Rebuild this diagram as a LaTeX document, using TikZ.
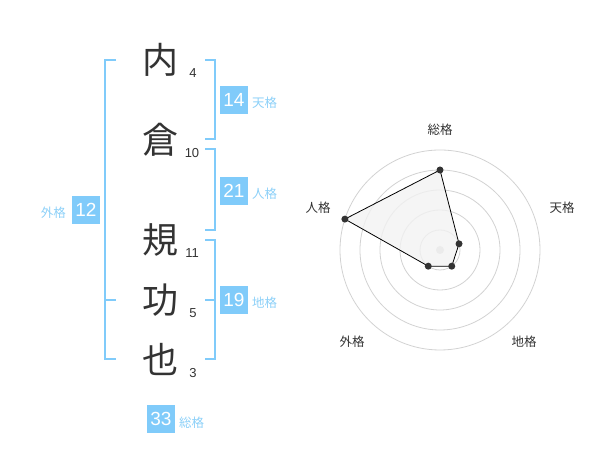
\documentclass[tikz,border=0pt]{standalone}
\usepackage{fontspec}
\setmainfont{Liberation Sans}
\newfontfamily\jpfont{Noto Sans CJK JP}
\definecolor{kakublue}{HTML}{80CBFA}
\definecolor{kakutext}{HTML}{8CD0F8}
\definecolor{inkgray}{HTML}{333333}
\definecolor{ringgray}{HTML}{D2D2D2}
\definecolor{radarfill}{HTML}{F2F2F2}
\begin{document}
\begin{tikzpicture}[x=1pt,y=1pt,
        kanji/.style={font=\jpfont\fontsize{36}{36}\selectfont, text=inkgray, inner sep=0},
        strokes/.style={font=\fontsize{13}{13}\selectfont, text=inkgray, inner sep=0},
        kakubox/.style={fill=kakublue, text=white, minimum size=28, inner sep=0, font=\fontsize{19}{19}\selectfont},
        kakulabel/.style={font=\jpfont\fontsize{12.5}{12.5}\selectfont, text=kakutext, inner sep=0},
        axislabel/.style={font=\jpfont\fontsize{12.5}{12.5}\selectfont, text=inkgray, inner sep=0},
        bracket/.style={kakublue, line width=2}
    ]
    \useasboundingbox (0,0) rectangle (600,470);

    % name
    \node[kanji] (K1) at (160,410) {内};
    \node[kanji] (K2) at (160,330) {倉};
    \node[kanji] (K3) at (160,230) {規};
    \node[kanji] (K4) at (160,170) {功};
    \node[kanji] (K5) at (160,110) {也};
    \node[strokes] (S1) at (193,397) {4};
    \node[strokes] (S2) at (192,317) {10};
    \node[strokes] (S3) at (192,217) {11};
    \node[strokes] (S4) at (193,157) {5};
    \node[strokes] (S5) at (193,97) {3};

    % brackets
    \draw[bracket] (116,410) -- (105,410) -- (105,111) -- (116,111);
    \draw[bracket] (105,170) -- (116,170);
    \draw[bracket] (205,410) -- (215,410) -- (215,331) -- (205,331);
    \draw[bracket] (205,321) -- (215,321) -- (215,240) -- (205,240);
    \draw[bracket] (205,230) -- (215,230) -- (215,111) -- (205,111);
    \draw[bracket] (205,170) -- (215,170);

    % scores
    \node[kakubox] (ten) at (234,370) {14};
    \node[kakubox] (jin) at (234,279) {21};
    \node[kakubox] (chi) at (234,170) {19};
    \node[kakubox] (gai) at (86,260) {12};
    \node[kakubox] (so) at (161,51) {33};
    \node[kakulabel, anchor=west] (tenL) at (252,367) {天格};
    \node[kakulabel, anchor=west] (jinL) at (252,276) {人格};
    \node[kakulabel, anchor=west] (chiL) at (252,167) {地格};
    \node[kakulabel, anchor=east] (gaiL) at (66,257) {外格};
    \node[kakulabel, anchor=west] (soL) at (179,47) {総格};

    % radar
    \begin{scope}[shift={(440,220)}]
        \foreach \r in {20,40,...,100}
            \draw[ringgray, line width=0.8] (0,0) circle (\r);
        \fill[ringgray] (0,0) circle (4);
        \coordinate (Rso) at (90:80);
        \coordinate (Rten) at (18:20);
        \coordinate (Rchi) at (-54:20);
        \coordinate (Rgai) at (-126:20);
        \coordinate (Rjin) at (162:100);
        \draw[black, line width=0.8, fill=radarfill, fill opacity=0.8] (Rso) -- (Rten) -- (Rchi) -- (Rgai) -- (Rjin) -- cycle;
        \foreach \p in {Rso,Rten,Rchi,Rgai,Rjin}
            \fill[inkgray] (\p) circle (3.5);
        \node[axislabel] (Lso) at (0,120) {総格};
        \node[axislabel] (Lten) at (122,42) {天格};
        \node[axislabel] (Lchi) at (84,-92) {地格};
        \node[axislabel] (Lgai) at (-88,-92) {外格};
        \node[axislabel] (Ljin) at (-122,42) {人格};
    \end{scope}
\end{tikzpicture}
\end{document}
